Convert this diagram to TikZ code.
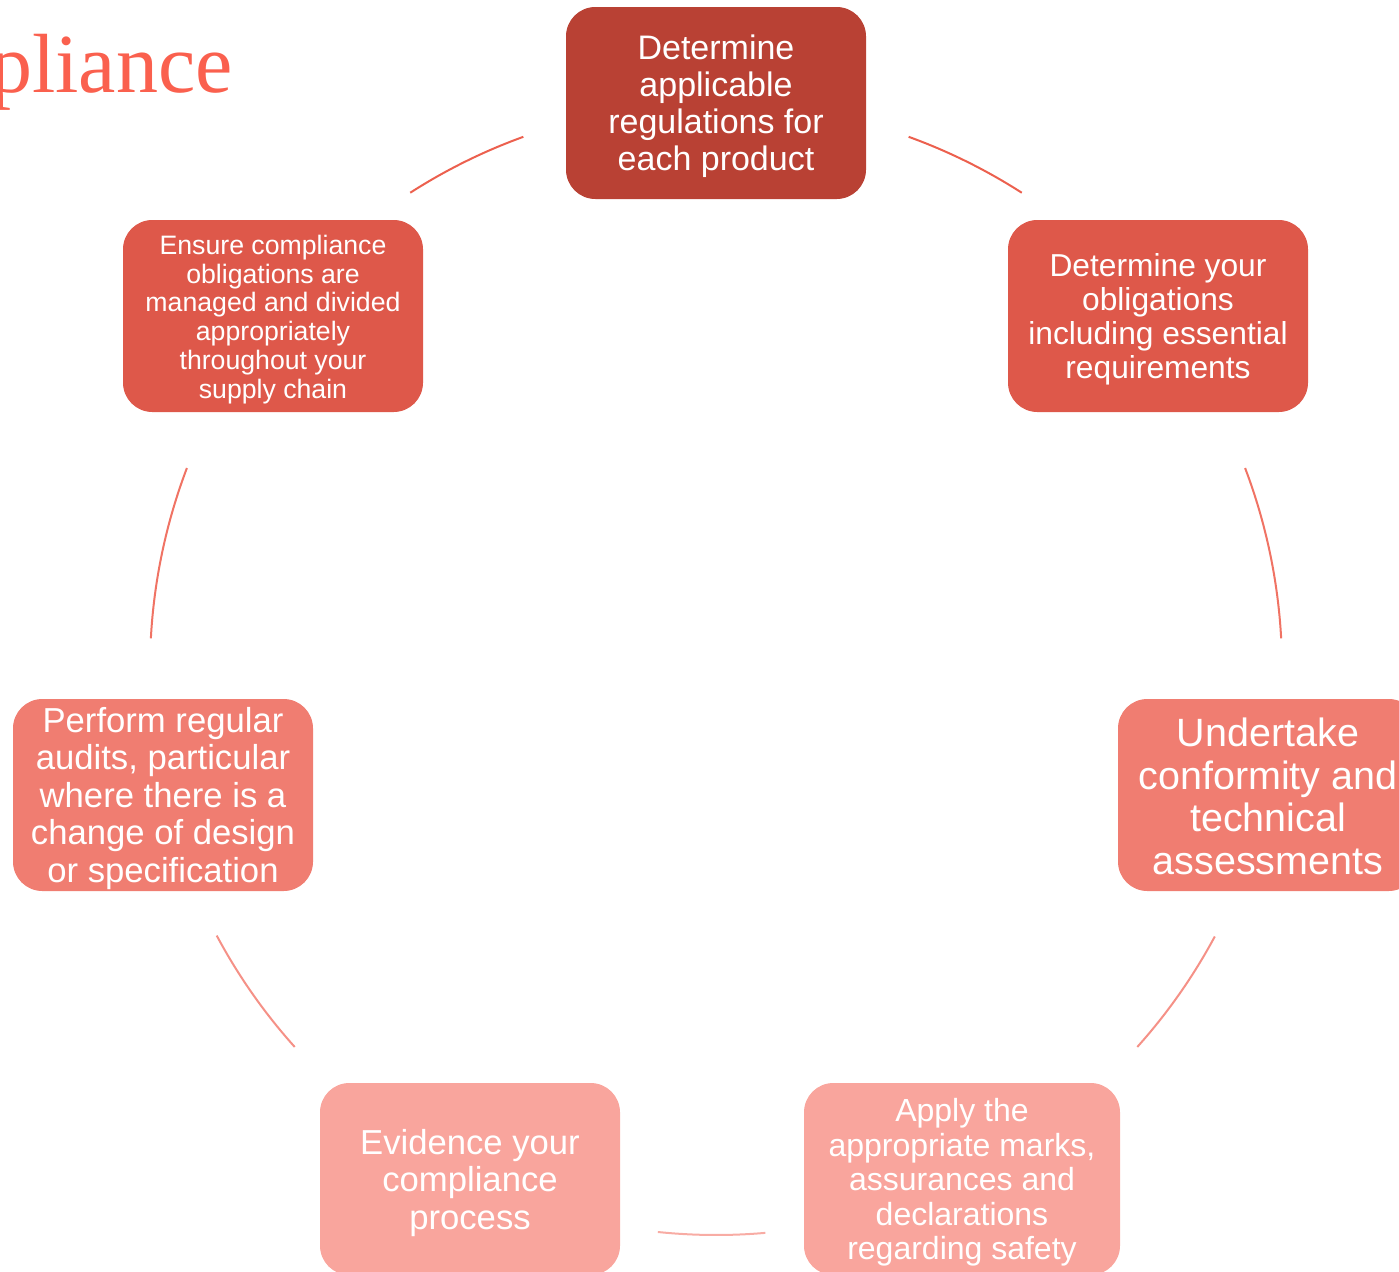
\documentclass[tikz,border=0pt]{standalone}
\usepackage{fontspec}
\setmainfont{Liberation Sans}
\newfontfamily\titlefont{Liberation Serif}
\definecolor{stepA}{RGB}{185,65,52}
\definecolor{stepB}{RGB}{222,88,74}
\definecolor{stepC}{RGB}{240,125,113}
\definecolor{stepD}{RGB}{249,165,157}
\definecolor{linkA}{RGB}{236,96,78}
\definecolor{linkB}{RGB}{240,115,100}
\definecolor{linkC}{RGB}{245,145,135}
\definecolor{linkD}{RGB}{248,172,164}
\definecolor{headline}{RGB}{250,96,78}
\tikzset{
  stepbox/.style={rounded corners=22pt, minimum width=225pt, minimum height=144pt,
    inner sep=0pt},
  steptext/.style={inner sep=0pt, align=center, text=white},
  link/.style={line width=1.5pt},
}
\begin{document}
\begin{tikzpicture}[x=0.75pt, y=-0.75pt]
\useasboundingbox (0,0) rectangle (1399,1271);

% heading
\node[anchor=base east, inner sep=0pt, text=headline, font=\titlefont\fontsize{63pt}{70pt}\selectfont]
  (title) at (233,92) {pliance};

% centre of the cycle
\coordinate (ctr) at (716,669);

% step boxes
\node[stepbox, fill=stepA] (s1) at (716,103) {};
\node[stepbox, fill=stepB] (s2) at (1158,316) {};
\node[stepbox, fill=stepC] (s3) at (1268,795) {};
\node[stepbox, fill=stepD, minimum width=237pt] (s4) at (962,1179) {};
\node[stepbox, fill=stepD] (s5) at (470,1179) {};
\node[stepbox, fill=stepC] (s6) at (163,795) {};
\node[stepbox, fill=stepB] (s7) at (273,316) {};

% step texts, set slightly below the box centres
\node[steptext, font=\fontsize{25.5pt}{27.75pt}\selectfont] (t1) at ([yshift=-2.5pt]s1.center)
  {Determine\\applicable\\regulations for\\each product};
\node[steptext, font=\fontsize{23.8pt}{25.7pt}\selectfont] (t2) at ([yshift=-2.5pt]s2.center)
  {Determine your\\obligations\\including essential\\requirements};
\node[steptext, font=\fontsize{29.6pt}{32pt}\selectfont] (t3) at ([yshift=-1pt]s3.center)
  {Undertake\\conformity and\\technical\\assessments};
\node[steptext, font=\fontsize{24pt}{25.9pt}\selectfont] (t4) at ([yshift=-2.5pt]s4.center)
  {Apply the\\appropriate marks,\\assurances and\\declarations\\regarding safety};
\node[steptext, font=\fontsize{26pt}{28.1pt}\selectfont] (t5) at ([yshift=-3pt]s5.center)
  {Evidence your\\compliance\\process};
\node[steptext, font=\fontsize{26pt}{28.1pt}\selectfont] (t6) at ([yshift=-2.5pt]s6.center)
  {Perform regular\\audits, particular\\where there is a\\change of design\\or specification};
\node[steptext, font=\fontsize{20pt}{21.6pt}\selectfont] (t7) at ([yshift=-2.5pt]s7.center)
  {Ensure compliance\\obligations are\\managed and divided\\appropriately\\throughout your\\supply chain};

% connecting arcs on the cycle circle
\draw[link, linkA] (ctr) ++(-70.1:566) arc[start angle=-70.1, end angle=-57.3, radius=566];
\draw[link, linkB] (ctr) ++(-20.8:566) arc[start angle=-20.8, end angle=-3.1, radius=566];
\draw[link, linkC] (ctr) ++(28.2:566) arc[start angle=28.2, end angle=41.9, radius=566];
\draw[link, linkD] (ctr) ++(85.0:566) arc[start angle=85.0, end angle=95.9, radius=566];
\draw[link, linkC] (ctr) ++(138.1:566) arc[start angle=138.1, end angle=151.9, radius=566];
\draw[link, linkB] (ctr) ++(183.1:566) arc[start angle=183.1, end angle=200.8, radius=566];
\draw[link, linkA] (ctr) ++(237.3:566) arc[start angle=237.3, end angle=250.1, radius=566];
\end{tikzpicture}
\end{document}
